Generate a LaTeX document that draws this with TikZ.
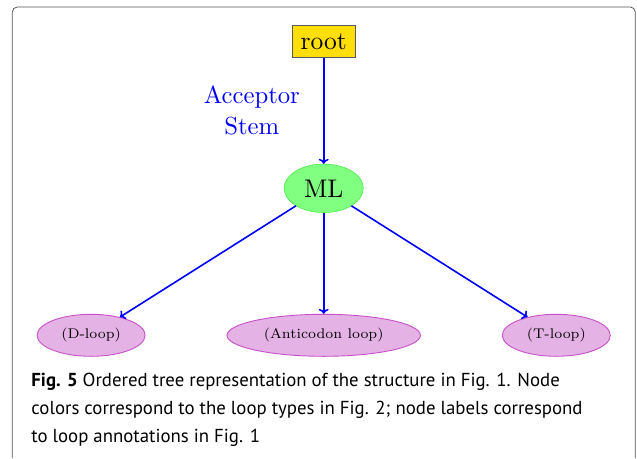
\documentclass[tikz,border=0pt]{standalone}
\usepackage{fontspec}
\newfontfamily\capfont{PT Sans}
\newfontfamily\lmten{lmroman10-regular}[Extension=.otf]
\newfontfamily\lmseven{lmroman7-regular}[Extension=.otf]
\usetikzlibrary{shapes.geometric,arrows.meta}
\definecolor{rootyellow}{RGB}{255,222,10}
\definecolor{rootline}{RGB}{90,90,90}
\definecolor{mlfill}{RGB}{128,255,128}
\definecolor{mlline}{RGB}{40,230,40}
\definecolor{loopfill}{RGB}{228,178,228}
\definecolor{loopline}{RGB}{200,80,200}
\definecolor{framegray}{RGB}{85,85,85}

\begin{document}
\begin{tikzpicture}[x=1pt, y=-1pt, level distance=147pt, sibling distance=232.6pt,
  every node/.style = {align=center, inner sep=0pt},
  rootbox/.style = {shape=rectangle, draw=rootline, fill=rootyellow, minimum width=63.4pt, minimum height=32.7pt, font=\lmten\fontsize{25.5}{30}\selectfont},
  mlnode/.style = {shape=ellipse, draw=mlline, fill=mlfill, minimum width=79.3pt, minimum height=48.6pt, font=\lmten\fontsize{25.5}{30}\selectfont},
  loopnode/.style = {shape=ellipse, draw=loopline, line width=0.9pt, fill=loopfill, minimum height=42pt, font=\lmseven\fontsize{14}{17}\selectfont},
  stemlabel/.style = {text=blue, font=\lmten\fontsize{24.7}{31}\selectfont},
  edge from parent/.style = {draw, blue, line width=1.6pt, -{To[length=5pt,width=10pt]}}]
  \useasboundingbox (0,0) rectangle (637,458);
  \draw[framegray, line width=0.8pt, rounded corners=5pt] (12.3,458) -- (12.3,7) -- (635.3,7) -- (635.3,458);
  \node[rootbox] (root) at (323.7,41.3) {root}
    child{ node[mlnode] (ML) {ML}
      child{ node[loopnode, minimum width=108pt] (dloop) {(D-loop)}}
      child{ node[loopnode, minimum width=193.4pt] (anticodon) {(Anticodon loop)}}
      child{ node[loopnode, minimum width=108pt] (tloop) {(T-loop)}}
      edge from parent node[stemlabel, left=23pt] {Acceptor\\Stem}};
  \node[anchor=north west, align=left, font=\capfont\fontsize{18.8}{27.8}\selectfont] (caption) at (31.2,373)
    {\textbf{Fig. 5} Ordered tree representation of the structure in Fig. 1. Node\\
     colors correspond to the loop types in Fig. 2; node labels correspond\\
     to loop annotations in Fig. 1};
\end{tikzpicture}
\end{document}
